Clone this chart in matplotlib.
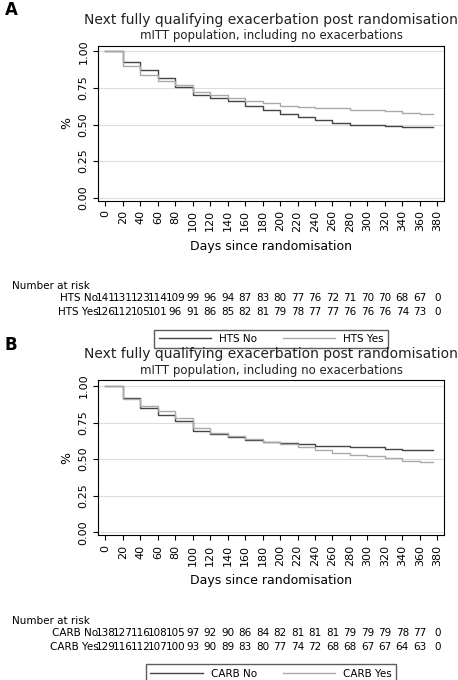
import matplotlib.pyplot as plt
import matplotlib.transforms as mtransforms

days = list(range(0, 381, 20))
km_days = list(range(0, 361, 20)) + [375]

hts_no = [1.0, 0.93, 0.87, 0.82, 0.76, 0.70, 0.68, 0.66, 0.63, 0.60, 0.57, 0.55, 0.53, 0.51, 0.50, 0.50, 0.49, 0.48, 0.48, 0.48]
hts_yes = [1.0, 0.90, 0.84, 0.80, 0.77, 0.72, 0.70, 0.68, 0.66, 0.65, 0.63, 0.62, 0.61, 0.61, 0.60, 0.60, 0.59, 0.58, 0.57, 0.57]
carb_no = [1.0, 0.92, 0.85, 0.80, 0.76, 0.69, 0.67, 0.65, 0.63, 0.62, 0.61, 0.60, 0.59, 0.59, 0.58, 0.58, 0.57, 0.56, 0.56, 0.56]
carb_yes = [1.0, 0.91, 0.86, 0.83, 0.78, 0.71, 0.68, 0.66, 0.64, 0.62, 0.60, 0.58, 0.56, 0.54, 0.53, 0.52, 0.51, 0.49, 0.48, 0.48]

risk_hts_no = [141, 131, 123, 114, 109, 99, 96, 94, 87, 83, 80, 77, 76, 72, 71, 70, 70, 68, 67, 0]
risk_hts_yes = [126, 112, 105, 101, 96, 91, 86, 85, 82, 81, 79, 78, 77, 77, 76, 76, 76, 74, 73, 0]
risk_carb_no = [138, 127, 116, 108, 105, 97, 92, 90, 86, 84, 82, 81, 81, 81, 79, 79, 79, 78, 77, 0]
risk_carb_yes = [129, 116, 112, 107, 100, 93, 90, 89, 83, 80, 77, 74, 72, 68, 68, 67, 67, 64, 63, 0]

panels = [
    ("A", 0.705, ["HTS No", "HTS Yes"], [hts_no, hts_yes], [risk_hts_no, risk_hts_yes]),
    ("B", 0.213, ["CARB No", "CARB Yes"], [carb_no, carb_yes], [risk_carb_no, risk_carb_yes]),
]
colors = ["#444444", "#aaaaaa"]

fig = plt.figure(figsize=(4.58, 6.8), dpi=100)
for letter, bottom, names, curves, risks in panels:
    ax = fig.add_axes([0.215, bottom, 0.755, 0.228])
    lines = []
    for name, c, col in zip(names, curves, colors):
        ln, = ax.plot(km_days, c, drawstyle="steps-post", color=col, lw=1, label=name)
        lines.append(ln)
    ax.set_xlim(-8, 388)
    ax.set_ylim(-0.02, 1.04)
    ax.set_xticks(days)
    ax.set_xticklabels([str(d) for d in days], rotation=90, fontsize=8)
    ax.set_yticks([0, 0.25, 0.5, 0.75, 1.0])
    ax.set_yticklabels(["0.00", "0.25", "0.50", "0.75", "1.00"], rotation=90, va="center", fontsize=8)
    ax.grid(axis="y", color="#dddddd", lw=0.8)
    ax.set_axisbelow(True)
    ax.set_ylabel("%", fontsize=9)
    ax.set_xlabel("Days since randomisation", fontsize=9, labelpad=6)
    ax.text(0.5, 1.14, "Next fully qualifying exacerbation post randomisation",
            transform=ax.transAxes, ha="center", fontsize=10, color="#222222")
    ax.text(0.5, 1.04, "mITT population, including no exacerbations",
            transform=ax.transAxes, ha="center", fontsize=8.5, color="#222222")
    fig.text(0.01, bottom + 0.228 + 0.045, letter, fontsize=12, fontweight="bold")

    trans = mtransforms.blended_transform_factory(ax.transData, ax.transAxes)
    ax.text(-0.25, -0.57, "Number at risk", transform=ax.transAxes, fontsize=7.5)
    for k, (name, r) in enumerate(zip(names, risks)):
        y = -0.65 - 0.09 * k
        ax.text(-8, y, name, transform=trans, ha="right", fontsize=7.5)
        for d, v in zip(days, r):
            ax.text(d, y, str(v), transform=trans, ha="center", fontsize=7.5)
    ax.legend(lines, names, loc="upper center", bbox_to_anchor=(0.5, -0.8), ncol=2,
              fontsize=7.5, frameon=True, fancybox=False, edgecolor="#333333",
              handlelength=5, columnspacing=2.5)

fig.savefig("out.png", dpi=100)
